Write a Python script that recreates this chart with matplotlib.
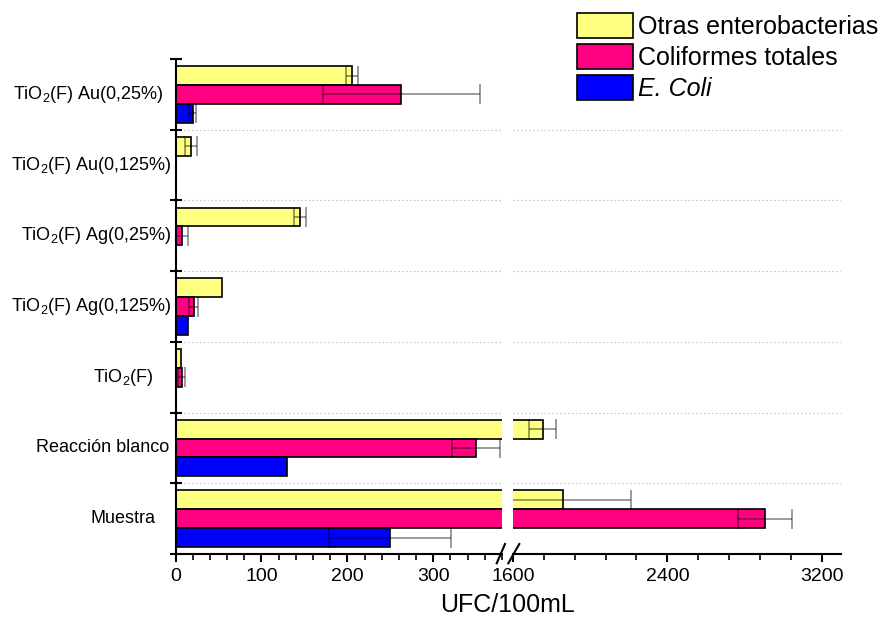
import matplotlib
matplotlib.use('Agg')
import matplotlib.pyplot as plt
import matplotlib.transforms as mtransforms
from matplotlib.lines import Line2D
from matplotlib.patches import Patch
from matplotlib.ticker import MultipleLocator
import numpy as np

plt.rcParams['font.family'] = ['Liberation Sans', 'DejaVu Sans']
plt.rcParams['mathtext.fontset'] = 'custom'
plt.rcParams['mathtext.rm'] = 'Liberation Sans'
plt.rcParams['mathtext.it'] = 'Liberation Sans:italic'

# ---- data (top to bottom) ----
categories = ['TiO$_2$(F) Au(0,25%)', 'TiO$_2$(F) Au(0,125%)', 'TiO$_2$(F) Ag(0,25%)',
              'TiO$_2$(F) Ag(0,125%)', 'TiO$_2$(F)', 'Reacción blanco', 'Muestra']
series_names = ['Otras enterobacterias', 'Coliformes totales', 'E. Coli']
otras = [205, 18, 145, 54, 6, 1755, 1857]
otras_err = [7, 7.5, 7, 0, 0, 70, 352]
coliformes = [263, 1, 8, 21, 7, 350, 2904]
coliformes_err = [91, 0, 7, 5, 4.6, 28, 140]
ecoli = [20, 1, 0, 15, 1, 130, 250]
ecoli_err = [4, 0, 0, 0, 0, 0, 71]
left_ticks = [0, 100, 200, 300]
right_ticks = [1600, 2400, 3200]

# ---- style ----
colors = ['#FFFF80', '#FF0080', '#0000FF']
label_offsets_px = [11.5, 3.5, 3.5, 3.5, 21.5, 6.5, 19.5]

W, H = 886, 628
fig = plt.figure(figsize=(W / 100, H / 100), dpi=100)
ax1 = fig.add_axes([175.5 / W, 74 / H, 326.5 / W, 495 / H])
ax2 = fig.add_axes([513 / W, 74 / H, 328 / W, 495 / H])

n = len(categories)
centers = np.arange(n)[::-1].astype(float)
h = 0.8 / 3
offsets = [h, 0, -h]
vals = [otras, coliformes, ecoli]
errs = [otras_err, coliformes_err, ecoli_err]

for ax in (ax1, ax2):
    for b in np.arange(0.5, n - 1, 1):
        ax.axhline(b, color='#c8c8c8', ls=(0, (1.5, 2.0)), lw=0.8, zorder=0)
    for v, e, off, c in zip(vals, errs, offsets, colors):
        v = np.array(v, float); e = np.array(e, float)
        ax.barh(centers + off, v, h, color=c, edgecolor='black', linewidth=1.2, zorder=2)
        m = e > 0
        ax.errorbar(v[m], (centers + off)[m], xerr=e[m], fmt='none', ecolor=(0, 0, 0, 0.5),
                    elinewidth=1.1, capsize=7, capthick=1.1, zorder=3)
    ax.set_ylim(-0.5, n - 0.5)
    for s in ('top', 'right'):
        ax.spines[s].set_visible(False)
    ax.spines['bottom'].set_linewidth(1.5)
    ax.spines['left'].set_linewidth(1.5)
    ax.tick_params(axis='x', which='major', direction='out', length=6, width=1.5,
                   labelsize=14, pad=4)
    ax.tick_params(axis='x', which='minor', direction='out', length=4, width=1.2)

ax1.set_xlim(0, 380)
ax1.set_xticks(left_ticks)
ax1.xaxis.set_minor_locator(MultipleLocator(20))
ax2.set_xlim(1600, 3300)
ax2.set_xticks(right_ticks)
ax2.xaxis.set_minor_locator(MultipleLocator(160))

ax1.set_yticks(np.arange(-0.5, n, 1))
ax1.set_yticklabels([])
ax1.tick_params(axis='y', which='major', direction='inout', length=9, width=1.5)
ax2.spines['left'].set_visible(False)
ax2.tick_params(axis='y', which='both', left=False, labelleft=False)

for lab, yc, off in zip(categories, centers, label_offsets_px):
    tr = ax1.get_yaxis_transform() + mtransforms.ScaledTranslation(-off / 100, 0, fig.dpi_scale_trans)
    ax1.text(0, yc, lab, transform=tr, ha='right', va='center', fontsize=13)

# break marks
for (x0, y0, x1, y1) in [(496.7, 563.3, 505, 544), (508.3, 563.3, 519.3, 544)]:
    fig.add_artist(Line2D([x0 / W, x1 / W], [1 - y0 / H, 1 - y1 / H], color='black',
                          lw=1.5, transform=fig.transFigure))

fig.text(507.7 / W, 1 - 605 / H, 'UFC/100mL', ha='center', va='center', fontsize=18)

handles = [Patch(facecolor=c, edgecolor='black', linewidth=1.2) for c in colors]
leg = fig.legend(handles, series_names, loc='upper left',
                 bbox_to_anchor=(576.7 / W, 1 - 13.3 / H), frameon=False, fontsize=18,
                 handlelength=2.24, handleheight=1.15, handletextpad=0.21,
                 labelspacing=0.2, borderpad=0, borderaxespad=0)
leg.get_texts()[2].set_style('italic')

fig.savefig('out.png', dpi=100)
